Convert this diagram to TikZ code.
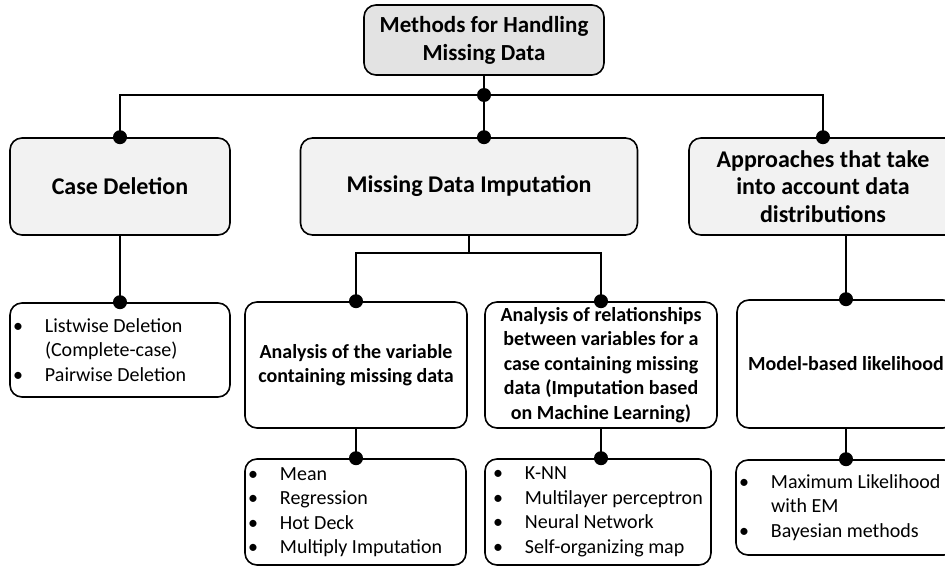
\documentclass[tikz,border=0pt]{standalone}
\usepackage{fontspec}
\setmainfont{Carlito}
\usetikzlibrary{calc}
\newcommand{\itm}{\makebox[32pt][l]{\textbullet}}
\newcommand{\cnt}{\hspace*{32pt}}

\begin{document}
\begin{tikzpicture}[x=1pt,y=-1pt,
    box/.style={draw, line width=1.6pt, rounded corners=12pt, align=center, inner sep=0pt},
    topbox/.style={box, fill=black!11, font=\bfseries\fontsize{23}{28}\selectfont},
    headbox/.style={box, fill=black!5, font=\bfseries\fontsize{24}{27.5}\selectfont},
    subbox/.style={box, fill=white, font=\bfseries\fontsize{20}{24.5}\selectfont},
    listbox/.style={box, fill=white, align=flush left, inner xsep=3pt, font=\fontsize{20}{24.5}\selectfont},
    conn/.style={line width=1.6pt},
    dotr/.style={fill=black}]
  % page, clipped on the right as in the figure
  \clip (0,0) rectangle (945,567);

  % level 0
  \node[topbox, minimum width=240pt, minimum height=70pt] (top) at (484,40)
       {Methods for Handling\\Missing Data};

  % level 1
  \node[headbox, minimum width=220pt, minimum height=97pt] (case) at (120,186.5) {Case Deletion};
  \node[headbox, minimum width=337pt, minimum height=97pt] (imp) at (469,186.5) {Missing Data Imputation};
  \node[headbox, minimum width=268pt, minimum height=97pt] (appr) at (823,186.5)
       {Approaches that take\\into account data\\distributions};

  % level 2
  \node[listbox, text width=214pt, minimum height=94pt] (caselist) at (120,350)
       {\itm Listwise Deletion\\\cnt(Complete-case)\\\itm Pairwise Deletion};
  \node[subbox, minimum width=222pt, minimum height=126pt] (sub1) at (356,365)
       {Analysis of the variable\\containing missing data};
  \node[subbox, minimum width=232pt, minimum height=126pt] (sub2) at (601,365)
       {Analysis of relationships\\between variables for a\\case containing missing\\data (Imputation based\\on Machine Learning)};
  \node[subbox, minimum width=218pt, minimum height=128pt] (model) at (846,364) {Model-based likelihood};

  % level 3
  \node[listbox, text width=215pt, minimum height=106pt] (list1) at (355.5,512)
       {\itm Mean\\\itm Regression\\\itm Hot Deck\\\itm Multiply Imputation};
  \node[listbox, inner xsep=8pt, text width=210pt, minimum height=106pt] (list2) at (598,512)
       {\itm K-NN\\\itm Multilayer perceptron\\\itm Neural Network\\\itm Self-organizing map};
  \node[listbox, text width=214pt, minimum height=95pt] (modellist) at (846,507.5)
       {\itm Maximum Likelihood\\\cnt with EM\\\itm Bayesian methods};

  % connectors
  \coordinate (hub) at (top.south |- 0,95);
  \coordinate (fork) at ($(imp.south)+(0,17)$);
  \draw[conn] (top.south) -- (hub);
  \draw[conn] (case.north) |- (hub) -| (appr.north);
  \draw[conn] (hub) -- (hub |- imp.north);
  \draw[conn] (imp.south) -- (fork);
  \draw[conn] (sub1.north) |- (fork) -| (sub2.north);
  \draw[conn] (case.south) -- (caselist.north);
  \draw[conn] (model.north |- appr.south) -- (model.north);
  \draw[conn] (sub1.south) -- (sub1.south |- list1.north);
  \draw[conn] (sub2.south) -- (sub2.south |- list2.north);
  \draw[conn] (model.south) -- (modellist.north);

  % junction dots
  \foreach \p in {hub, case.north, appr.north, sub1.north, sub2.north,
                  caselist.north, model.north, modellist.north}
    \fill[dotr] (\p) circle (7pt);
  \fill[dotr] (hub |- imp.north) circle (7pt);
  \fill[dotr] (sub1.south |- list1.north) circle (7pt);
  \fill[dotr] (sub2.south |- list2.north) circle (7pt);
\end{tikzpicture}
\end{document}
